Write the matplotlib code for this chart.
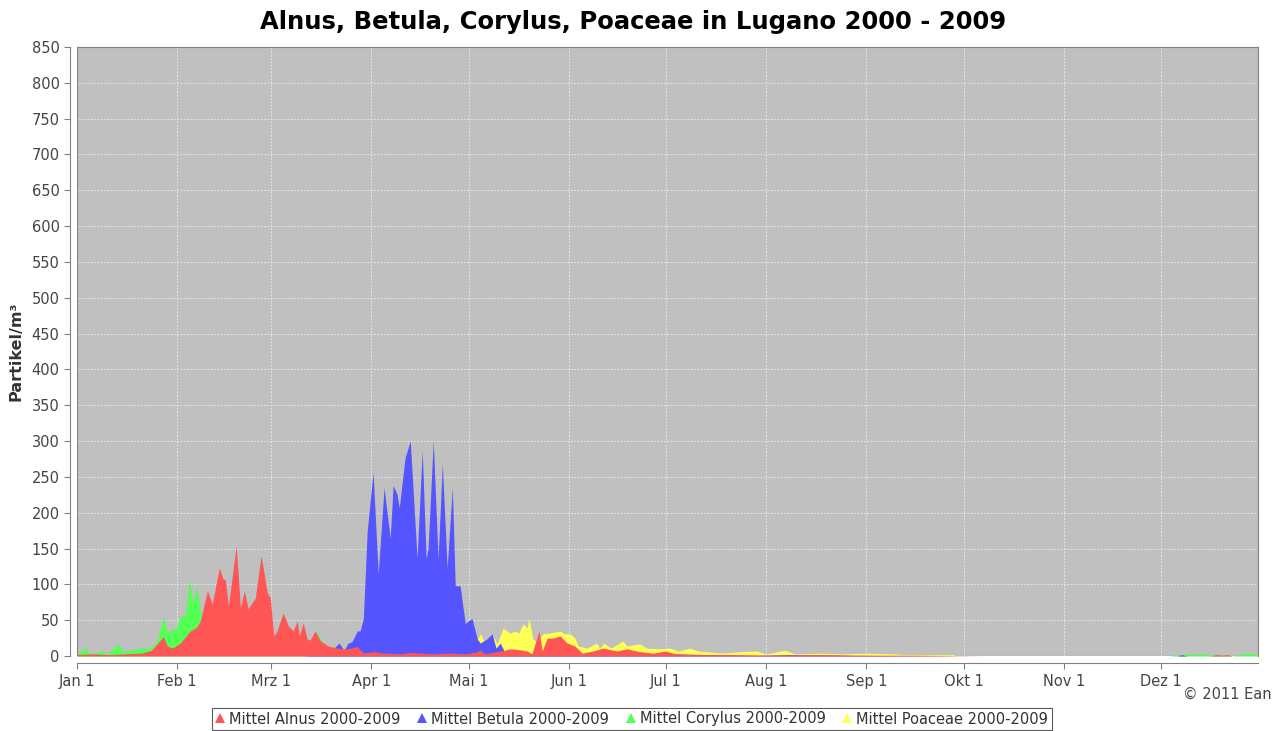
import numpy as np
import matplotlib.pyplot as plt
from matplotlib.lines import Line2D

# day of year (leap year 2000, Jan 1 = 0) and mean particle counts
alnus_days = [0, 5, 10, 15, 20, 23, 24.2, 26.7, 27.9, 29.5, 31.9, 35, 36.9, 38.1, 40.3, 41.8,
              44, 45.2, 45.8, 46.8, 49.2, 50.5, 51.7, 52.9, 55.1, 56.9, 58.8, 59.7, 60.8, 61.8,
              63.7, 65.3, 66.8, 68.1, 68.7, 69.9, 71.1, 72, 73.6, 75.2, 77.6, 80.4, 83.5, 86.6,
              88.5, 91.5, 95, 100, 103, 110, 115, 120, 123, 124.6, 126, 130.8, 134.8, 139.1,
              140.6, 142.8, 143.8, 145.3, 147.1, 149.3, 151.5, 153.9, 156.1, 159.5, 162.6,
              166.9, 170, 174, 178, 182, 185, 190, 200, 215, 230, 240, 260, 280, 350, 352.5,
              354, 355.5, 357, 365]
alnus_vals = [2, 3, 2, 3, 4, 8, 14, 27, 14, 11, 18, 35, 40, 49, 91, 73,
              123, 107, 107, 70, 154, 67, 91, 66, 81, 140, 88, 82, 28, 35,
              60, 42, 35, 49, 28, 46, 24, 22, 35, 21, 14, 11, 10, 13,
              4, 6, 4, 3, 5, 3, 4, 3, 5, 8, 3, 7, 10, 7,
              3, 35, 7, 25, 25, 28, 18, 14, 4, 7, 11,
              7, 10, 6, 4, 7, 3, 2, 2, 1, 2, 1, 1, 0, 0, 2,
              1, 2, 0, 0]

betula_days = [0, 70, 74, 78, 81, 82.5, 83.8, 85, 86.6, 87.5, 88.5, 89.7, 91.5, 93.1, 94.9,
               96.8, 97.7, 98.9, 99.6, 101.4, 103, 105.1, 106.7, 107.9, 108.5, 110.1, 111.6,
               112.9, 114.4, 116, 116.9, 118.4, 120, 120.9, 122.1, 123.7, 124.6, 126.7, 128.3,
               129.5, 130.8, 132, 133.8, 134.8, 136, 140, 150, 160, 170, 180, 185, 195, 210,
               220, 240, 270, 340, 341.5, 343, 365]
betula_vals = [0, 0, 2, 5, 18, 8, 18, 20, 35, 35, 53, 175, 256, 115, 235,
               164, 238, 226, 207, 277, 300, 137, 287, 136, 150, 300, 136,
               268, 123, 235, 98, 98, 45, 49, 52, 24, 18, 24, 31,
               11, 18, 7, 10, 7, 2, 1, 1, 1, 2, 2, 3, 2, 1,
               2, 1, 0, 0, 2, 0, 0]

corylus_days = [0, 2.6, 4, 7.8, 9, 12.8, 14, 16.5, 18.7, 20, 22, 24.2, 25.1, 26.7, 27.9, 29.5,
                30.5, 31.9, 33.5, 34.7, 35.9, 36.9, 38.1, 39, 40, 45, 50, 55, 60, 65, 70, 73,
                74.5, 76, 78, 82, 90, 100, 120, 150, 200, 338, 339.5, 341, 343.5, 346, 348.5,
                350, 352, 355.5, 357, 360.5, 362, 364, 365]
corylus_vals = [3, 12, 3, 8, 2, 17, 7, 8, 10, 12, 10, 17, 25, 56, 32, 39,
                35, 56, 56, 107, 73, 98, 65, 50, 45, 40, 35, 40, 25, 30, 25, 22,
                32, 18, 10, 5, 3, 2, 1, 1, 0, 0, 2, 1, 3, 3, 3,
                1, 2, 2, 0, 3, 4, 3, 2]

poaceae_days = [0, 110, 115, 120, 122, 124.6, 125.5, 126, 128.6, 129.8, 131.7, 133.8, 135.4,
                136.5, 137.9, 139.1, 139.7, 140.9, 142, 144, 146.2, 149.3, 150.5, 152.4, 153.9,
                154.9, 157.6, 160.7, 161.5, 162.9, 165, 168.7, 170, 174, 176, 180.2, 183.3,
                186, 189.4, 192, 199.6, 205, 210, 213, 218.8, 222, 230, 237, 244.1, 252, 256,
                265, 270.7, 272, 365]
poaceae_vals = [0, 0, 2, 3, 8, 31, 24, 18, 28, 17, 39, 32, 35,
                32, 45, 39, 52, 24, 20, 31, 32, 35, 31, 31, 25,
                14, 11, 18, 11, 18, 11, 21, 14, 17, 11, 10, 11,
                7, 11, 7, 4, 6, 7, 3, 8, 3, 4, 3, 4, 3, 2,
                2, 2, 0, 0]

month_starts = [0, 31, 60, 91, 121, 152, 182, 213, 244, 274, 305, 335]
month_labels = ['Jan 1', 'Feb 1', 'Mrz 1', 'Apr 1', 'Mai 1', 'Jun 1',
                'Jul 1', 'Aug 1', 'Sep 1', 'Okt 1', 'Nov 1', 'Dez 1']

series = [
    ('Mittel Alnus 2000-2009', alnus_days, alnus_vals, '#FF5555', 4),
    ('Mittel Betula 2000-2009', betula_days, betula_vals, '#5555FF', 3),
    ('Mittel Corylus 2000-2009', corylus_days, corylus_vals, '#55FF55', 2),
    ('Mittel Poaceae 2000-2009', poaceae_days, poaceae_vals, '#FFFF55', 1),
]

fig = plt.figure(figsize=(12.83, 7.31), dpi=100)
ax = fig.add_axes([77 / 1283, 1 - 656 / 731, (1258 - 77) / 1283, (656 - 47) / 731])
ax.set_facecolor('#C0C0C0')

for name, d, v, c, z in series:
    ax.fill_between(d, 0, v, color=c, lw=0, zorder=z)

ax.set_xlim(0, 365)
ax.set_ylim(0, 850)
ax.set_yticks(np.arange(0, 851, 50))
ax.set_xticks(month_starts)
ax.set_xticklabels(month_labels)
ax.grid(True, color='#eeeeee', linestyle=(0, (2, 2)), linewidth=0.6, zorder=0.5)
ax.set_axisbelow(True)

for s in ['top', 'right']:
    ax.spines[s].set_color('#808080')
    ax.spines[s].set_linewidth(0.8)
for s in ['left', 'bottom']:
    ax.spines[s].set_position(('outward', 5))
    ax.spines[s].set_color('#808080')
    ax.spines[s].set_linewidth(0.8)
ax.tick_params(axis='both', colors='#808080', labelcolor='#444444', labelsize=10.5,
               length=4, width=0.8)
ax.tick_params(axis='x', pad=4)

# plot area outline on the left/bottom edge too
ax.axvline(0, color='#808080', lw=0.8, zorder=6)
ax.axhline(0, color='#808080', lw=0.8, zorder=6)

ax.set_ylabel('Partikel/m³', fontsize=11.5, fontweight='bold', color='#333333', labelpad=6)
fig.text(633 / 1283, 1 - 22 / 731, 'Alnus, Betula, Corylus, Poaceae in Lugano 2000 - 2009',
         ha='center', va='center', fontsize=17.5, fontweight='bold')
fig.text(1272 / 1283, 1 - 694 / 731, '© 2011 Ean', ha='right', va='center',
         fontsize=10.5, color='#444444')

handles = [Line2D([], [], marker='^', linestyle='none', markersize=7, color=c,
                  markeredgewidth=0) for _, _, _, c, _ in series]
labels = [name for name, _, _, _, _ in series]
leg = fig.legend(handles, labels, loc='center', bbox_to_anchor=(632 / 1283, 1 - 719 / 731),
                 ncol=4, frameon=True, fancybox=False, fontsize=10.5, handlelength=0.6,
                 handletextpad=0.3, columnspacing=1.2, borderpad=0.25, edgecolor='#333333')
leg.get_frame().set_linewidth(0.8)
for t in leg.get_texts():
    t.set_color('#333333')

fig.savefig('out.png', dpi=100)
